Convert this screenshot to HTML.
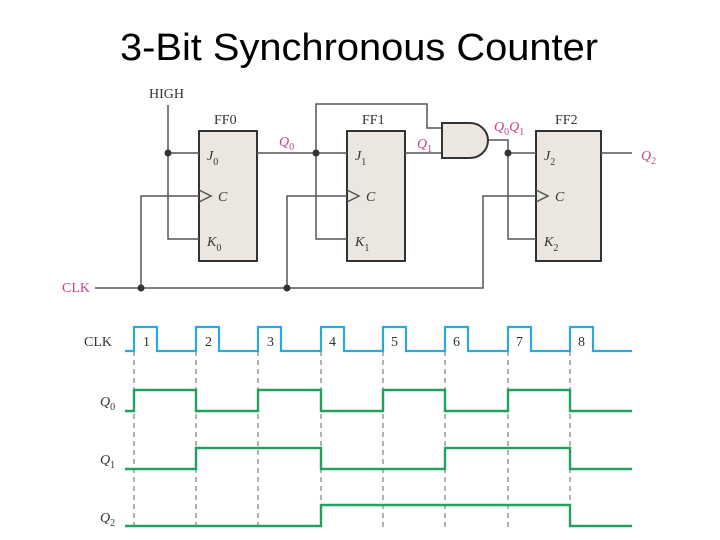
<!DOCTYPE html>
<html><head><style>body{margin:0;background:#fff}svg{display:block}</style></head><body>
<svg width="720" height="540" viewBox="0 0 720 540" xmlns="http://www.w3.org/2000/svg">
<text x="120" y="60" textLength="478" lengthAdjust="spacingAndGlyphs" font-family="Liberation Sans, sans-serif" font-size="38" fill="#000">3-Bit Synchronous Counter</text>
<g font-family="Liberation Serif, serif" font-size="14" fill="#333">
<rect x="199" y="131" width="58" height="130" fill="#ebe6df" stroke="#333" stroke-width="2"/>
<rect x="347" y="131" width="58" height="130" fill="#ebe6df" stroke="#333" stroke-width="2"/>
<rect x="536" y="131" width="65" height="130" fill="#ebe6df" stroke="#333" stroke-width="2"/>
<g fill="none" stroke="#555" stroke-width="1.5">
<path d="M168 105V239H199M168 153H199"/>
<path d="M95 288H483V196H536M141 288V196H199M287 288V196H347"/>
<path d="M257 153H347M316 153V104H427V128H442M316 153V239H347"/>
<path d="M405 153H442M488 140H508V239H536M508 153H536M601 153H632"/>
<path d="M199 190L211 196L199 202M347 190L359 196L347 202M536 190L548 196L536 202"/>
</g>
<path d="M442 123H470A18 17.5 0 0 1 470 158H442Z" fill="#ebe6df" stroke="#333" stroke-width="2"/>
<g fill="#333"><circle cx="168" cy="153" r="3.5"/><circle cx="141" cy="288" r="3.5"/><circle cx="287" cy="288" r="3.5"/><circle cx="316" cy="153" r="3.5"/><circle cx="508" cy="153" r="3.5"/></g>
<text x="149" y="98">HIGH</text>
<text x="214" y="124">FF0</text><text x="362" y="124">FF1</text><text x="555" y="124">FF2</text>
<g font-style="italic"><text x="207" y="160">J<tspan font-style="normal" font-size="10" dy="5">0</tspan></text><text x="218" y="201">C</text><text x="207" y="246">K<tspan font-style="normal" font-size="10" dy="5">0</tspan></text>
<text x="355" y="160">J<tspan font-style="normal" font-size="10" dy="5">1</tspan></text><text x="366" y="201">C</text><text x="355" y="246">K<tspan font-style="normal" font-size="10" dy="5">1</tspan></text>
<text x="544" y="160">J<tspan font-style="normal" font-size="10" dy="5">2</tspan></text><text x="555" y="201">C</text><text x="544" y="246">K<tspan font-style="normal" font-size="10" dy="5">2</tspan></text>
<g fill="#c8408a"><text x="279" y="146">Q<tspan font-style="normal" font-size="10" dy="4">0</tspan></text><text x="417" y="148">Q<tspan font-style="normal" font-size="10" dy="4">1</tspan></text><text x="494" y="131">Q<tspan font-style="normal" font-size="10" dy="4">0</tspan><tspan dy="-4">Q</tspan><tspan font-style="normal" font-size="10" dy="4">1</tspan></text><text x="641" y="160">Q<tspan font-style="normal" font-size="10" dy="4">2</tspan></text></g></g>
<text x="62" y="292" fill="#c8408a">CLK</text>
<text x="84" y="346">CLK</text>
<g font-style="italic"><text x="100" y="406">Q<tspan font-style="normal" font-size="10" dy="4">0</tspan></text><text x="100" y="464">Q<tspan font-style="normal" font-size="10" dy="4">1</tspan></text><text x="100" y="522">Q<tspan font-style="normal" font-size="10" dy="4">2</tspan></text></g>
<text x="143" y="346">1</text><text x="205" y="346">2</text><text x="267" y="346">3</text><text x="329" y="346">4</text><text x="391" y="346">5</text><text x="453" y="346">6</text><text x="516" y="346">7</text><text x="578" y="346">8</text>
</g>
<g stroke="#666" stroke-width="1" stroke-dasharray="5,4"><path d="M134 351V528M196 351V528M258 351V528M321 351V528M383 351V528M445 351V528M508 351V528M570 351V528"/></g>
<path fill="none" stroke="#2aa8e0" stroke-width="2.2" d="M125 351H134V327H157V351H196V327H219V351H258V327H281V351H321V327H344V351H383V327H406V351H445V327H468V351H508V327H531V351H570V327H593V351H632"/>
<g fill="none" stroke="#22a060" stroke-width="2.4">
<path d="M125 411H134V390H196V411H258V390H321V411H383V390H445V411H508V390H570V411H632"/>
<path d="M125 469H196V448H321V469H445V448H570V469H632"/>
<path d="M125 526H321V505H570V526H632"/>
</g>
</svg>
</body></html>
